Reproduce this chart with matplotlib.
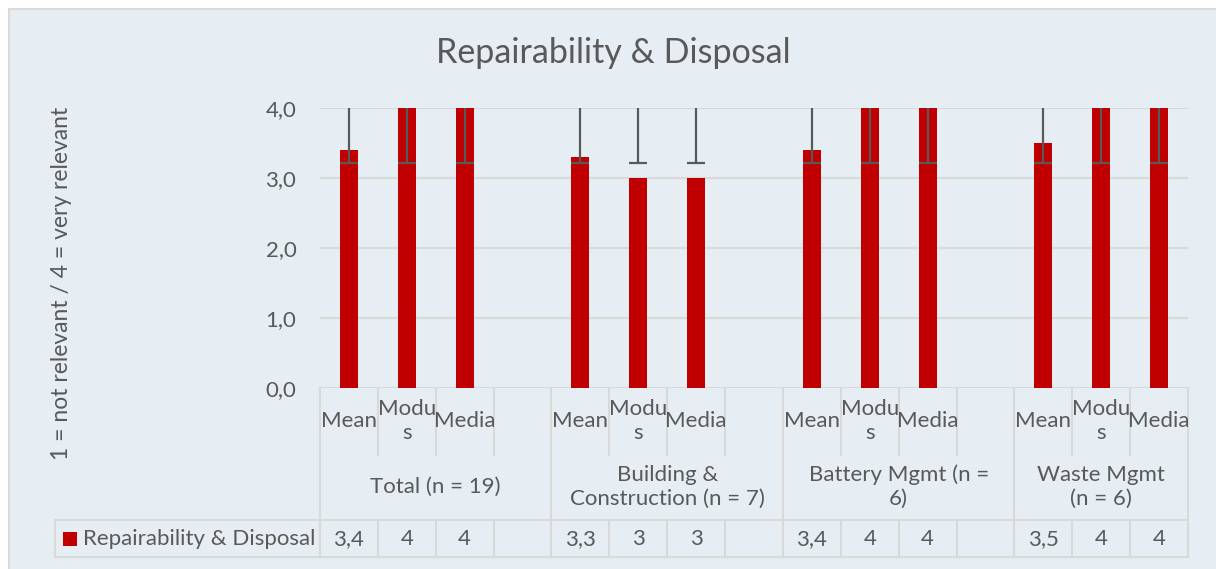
import matplotlib.pyplot as plt
import matplotlib.transforms as mtransforms
from matplotlib.patches import Rectangle
import numpy as np

# data
groups = ['Total (n = 19)', 'Building &\nConstruction (n = 7)', 'Battery Mgmt (n =\n6)', 'Waste Mgmt\n(n = 6)']
stats = ['Mean', 'Modu\ns', 'Media']
values = [[3.4, 4, 4], [3.3, 3, 3], [3.4, 4, 4], [3.5, 4, 4]]
labels = [['3,4', '4', '4'], ['3,3', '3', '3'], ['3,4', '4', '4'], ['3,5', '4', '4']]
err_low = [[3.22, 3.22, 3.22], [3.22, 3.22, 3.22], [3.22, 3.22, 3.22], [3.22, 3.22, 3.22]]
err_high = [[4.0, 4.0, 4.0], [4.0, 4.0, 4.0], [4.0, 4.0, 4.0], [4.0, 4.0, 4.0]]
series_name = 'Repairability & Disposal'
y_ticks = [0, 1, 2, 3, 4]
y_ticklabels = ['0,0', '1,0', '2,0', '3,0', '4,0']

RED = '#C00000'
TXT = '#595959'
GRID = '#D9D9D9'
BG = '#E6EEF3'
FONT = 'Lato'
FS = 16
W, H = 1216, 569

plt.rcParams['font.family'] = [FONT, 'DejaVu Sans']

fig = plt.figure(figsize=(W / 100, H / 100), dpi=100, facecolor='white')

# layout layer in pixel coords
lay = fig.add_axes([0, 0, 1, 1])
lay.set_xlim(0, W)
lay.set_ylim(H, 0)
lay.axis('off')
lay.add_patch(Rectangle((9, 9), W, H, facecolor=BG, edgecolor=GRID, lw=1.5))

# plot area
x0, x1, ytop, ybot = 320, 1188, 108, 388
ax = fig.add_axes([x0 / W, (H - ybot) / H, (x1 - x0) / W, (ybot - ytop) / H])
ax.set_facecolor('none')

n_slots = 4 * 4 - 1
xs, ys, lo, hi = [], [], [], []
for g in range(len(groups)):
    for s in range(len(stats)):
        xs.append(g * 4 + s)
        ys.append(values[g][s])
        lo.append(err_low[g][s])
        hi.append(err_high[g][s])
xs = np.array(xs)

ax.bar(xs, ys, width=0.31, color=RED, zorder=3)
ax.vlines(xs, lo, hi, color=TXT, lw=1.6, zorder=4)
ax.plot(xs, lo, ls='none', marker='_', markersize=13, markeredgewidth=1.6, color=TXT, zorder=4)

ax.set_xlim(-0.5, n_slots - 0.5)
ax.set_ylim(0, 4)
ax.set_yticks(y_ticks)
ax.set_yticklabels(y_ticklabels)
ax.tick_params(axis='y', length=0, pad=17, labelsize=FS, labelcolor=TXT)
ax.set_xticks([])
ax.grid(axis='y', color=GRID, lw=1.5, zorder=0)
for sp in ax.spines.values():
    sp.set_visible(False)
ax.axhline(0, color=GRID, lw=1.8, zorder=2)

lay.text(613, 53, 'Repairability & Disposal', ha='center', va='center', fontsize=24.5, color=TXT)
lay.text(62, 283, '1 = not relevant / 4 = very relevant', rotation=90,
         ha='center', va='center', fontsize=FS + 0.5, color=TXT)

# data table below the axis
tr = mtransforms.blended_transform_factory(ax.transData, lay.transData)
r1, r2, r3 = 455, 520, 557
kw = dict(color=GRID, lw=1.5, transform=tr, clip_on=False)
edges = np.arange(n_slots + 1) - 0.5
for e in edges:
    k = int(e + 0.5)
    top_end = r3 if (k % 4 == 0 or k == n_slots) else r1
    lay.plot([e, e], [ybot, top_end], **kw)
    lay.plot([e, e], [r2, r3], **kw)
lay.plot([-0.5, n_slots - 0.5], [r2, r2], **kw)
lay.plot([-0.5, n_slots - 0.5], [r3, r3], **kw)

for g, name in enumerate(groups):
    for s, st in enumerate(stats):
        xi = g * 4 + s
        lay.text(xi, 421, st, transform=tr, ha='center', va='center', fontsize=FS,
                 color=TXT, linespacing=1.2)
        lay.text(xi, 539, labels[g][s], transform=tr, ha='center', va='center',
                 fontsize=FS, color=TXT)
    last = min(g * 4 + 3, n_slots - 1) + 0.5
    cx = (g * 4 - 0.5 + last) / 2
    lay.text(cx, 487, name, transform=tr, ha='center', va='center', fontsize=FS,
             color=TXT, linespacing=1.25)

# legend cell
lay.plot([55, 320], [r2, r2], color=GRID, lw=1.5)
lay.plot([55, 320], [r3, r3], color=GRID, lw=1.5)
lay.plot([55, 55], [r2, r3], color=GRID, lw=1.5)
lay.add_patch(Rectangle((63, 532), 14, 14, facecolor=RED, edgecolor='none'))
lay.text(83, 539, series_name, ha='left', va='center', fontsize=FS, color=TXT)

fig.savefig('out.png', dpi=100, facecolor='white')
